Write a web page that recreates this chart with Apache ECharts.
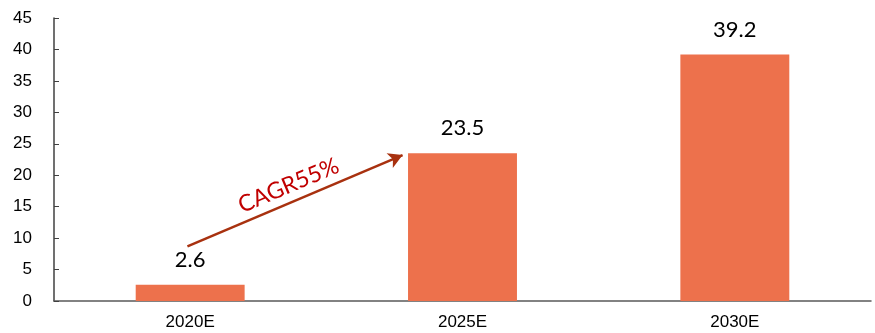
<!DOCTYPE html>
<html>
<head>
<meta charset="utf-8">
<script src="https://cdn.jsdelivr.net/npm/echarts@6/dist/echarts.min.js"></script>
<style>
  html, body { margin: 0; padding: 0; background: #fff; }
  #chart { width: 875px; height: 333px; }
</style>
</head>
<body>
<div id="chart"></div>
<script>
// Market size estimates by year
const categories = ['2020E', '2025E', '2030E'];
const values = [2.6, 23.5, 39.2];
const yTicks = { min: 0, max: 45, interval: 5 };

// Growth arrow from the first bar toward the second, in data units
const arrowStart = [-0.01, 8.7];
const arrowEnd = [0.78, 23.2];
const arrowLabel = 'CAGR55%';

const chart = echarts.init(document.getElementById('chart'));
chart.setOption({
  animation: false,
  grid: { left: 54, right: 4, top: 18, bottom: 32 },
  xAxis: [
    {
      type: 'category',
      data: categories,
      axisLine: { lineStyle: { color: '#595959', width: 1.5 } },
      axisTick: { inside: true, length: 5, lineStyle: { color: '#595959' } },
      axisLabel: { color: '#000', fontFamily: 'Liberation Sans', fontSize: 17, margin: 13 }
    },
    {
      type: 'value', min: -0.5, max: 2.5, show: false
    }
  ],
  yAxis: {
    type: 'value',
    min: yTicks.min, max: yTicks.max, interval: yTicks.interval,
    axisLine: { show: true, onZero: false, lineStyle: { color: '#404040', width: 1.5 } },
    axisTick: { show: true, inside: true, length: 5, lineStyle: { color: '#404040' } },
    splitLine: { show: false },
    axisLabel: { color: '#000', fontFamily: 'Liberation Sans', fontSize: 17, margin: 22 }
  },
  series: [
    {
      type: 'bar',
      data: values,
      barWidth: '40%',
      itemStyle: { color: '#ED714C' },
      label: {
        show: true, position: 'top', distance: 14,
        color: '#000', fontFamily: 'Lato', fontSize: 22
      }
    },
    {
      type: 'line',
      xAxisIndex: 1,
      data: [],
      markLine: {
        silent: true,
        symbol: ['none', 'arrow'],
        symbolSize: [12, 14],
        lineStyle: { color: '#A8310F', width: 2.5, type: 'solid' },
        label: {
          show: true, position: 'middle', formatter: arrowLabel,
          color: '#C00000', fontFamily: 'Lato', fontSize: 23, distance: 5
        },
        data: [[{ coord: arrowStart }, { coord: arrowEnd }]]
      }
    }
  ]
});
</script>
</body>
</html>
